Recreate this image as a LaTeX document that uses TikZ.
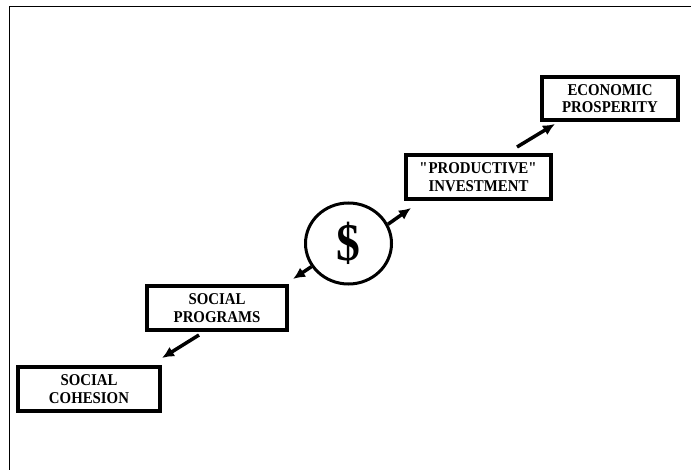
\documentclass[tikz,border=0pt]{standalone}
\usepackage{fontspec}
\setmainfont{Liberation Serif}
\newfontfamily\boxfont[FakeStretch=0.9]{Liberation Serif}
\usetikzlibrary{shapes.geometric,arrows.meta}

\begin{document}
\begin{tikzpicture}[x=1pt, y=-1pt,
  box/.style={draw, line width=4pt, inner sep=0pt, align=center,
    font=\boxfont\bfseries\fontsize{16.5}{17.5}\selectfont},
  arr/.style={line width=3.5pt, -{Latex[length=12pt,width=11pt]}}]

\useasboundingbox (0,0) rectangle (691,470);
\draw[line width=1pt] (9,470) -- (9,7) -- (691,7);

\node[box, minimum width=142pt, minimum height=44pt] (cohesion) at (89,389) {SOCIAL\\COHESION};
\node[box, minimum width=140pt, minimum height=44pt] (programs) at (217,308) {SOCIAL\\PROGRAMS};
\node[box, minimum width=145pt, minimum height=44pt] (invest) at (478.5,177) {\textquotedbl PRODUCTIVE\textquotedbl\\INVESTMENT};
\node[box, minimum width=136pt, minimum height=43pt] (prosper) at (610,98.5) {ECONOMIC\\PROSPERITY};

\node[draw, ellipse, line width=3pt, minimum width=86pt, minimum height=81pt, inner sep=0pt,
  font=\boxfont\bfseries\fontsize{53}{53}\selectfont] (money) at (348.5,243.5) {\raisebox{-5pt}{\$}};

\draw[arr] (money.26) -- ([shift={(7,7)}]invest.south west);
\draw[arr] ([shift={(-36,-6)}]invest.north east) -- ([shift={(15,2)}]prosper.south west);
\draw[arr] (money.212) -- ([shift={(4,-5)}]programs.north east);
\draw[arr] ([shift={(-18,3)}]programs.south) -- ([shift={(0,-7)}]cohesion.north east);

\end{tikzpicture}
\end{document}
